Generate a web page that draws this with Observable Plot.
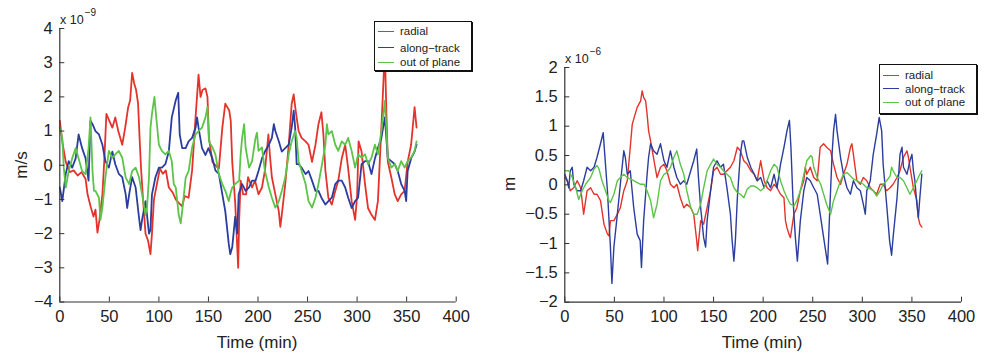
<!DOCTYPE html>
<html>
<head>
<meta charset="utf-8">
<script src="https://cdn.jsdelivr.net/npm/d3@7"></script>
<script src="https://cdn.jsdelivr.net/npm/@observablehq/plot@0.6"></script>
<style>
  body { margin: 0; background: #fff; }
  #wrap { position: relative; width: 989px; height: 358px; background: #fff; font-family: "Liberation Sans", Arial, Helvetica, sans-serif; color: #222; }
  .panel { position: absolute; top: 0; }
  .lbl { position: absolute; white-space: nowrap; }
  .legend { position: absolute; background: #fff; border: 1px solid #111; box-shadow: 1px 1px 0 #111; font-size: 11.5px; line-height: 12px; }
  .legend .row { position: absolute; left: 0; height: 12px; display: flex; align-items: center; white-space: nowrap; }
  .legend .sw { display: inline-block; width: 16px; height: 0; border-top: 1.3px solid; margin-left: 3px; margin-right: 6px; }
</style>
</head>
<body>
<div id="wrap">
  <div id="left" class="panel" style="left:0"></div>
  <div id="right" class="panel" style="left:500px"></div>
</div>
<script>
// ---- series names, colours, ticks ----
const seriesNames = ["radial", "along\u2212track", "out of plane"];
const seriesColors = ["#e3342b", "#2b3d9e", "#5cc448"];
const xTicks = [0, 50, 100, 150, 200, 250, 300, 350, 400];
const leftYTicks = [-4, -3, -2, -1, 0, 1, 2, 3, 4];
const rightYTicks = [-2, -1.5, -1, -0.5, 0, 0.5, 1, 1.5, 2];
const leftExponent = "\u22129";
const rightExponent = "\u22126";

// ---- left panel: velocity, units of 1e-9 m/s, [time (min), value] ----
const leftRadial = [[0,1.3],[3,0.6],[6,0.1],[10,-0.2],[14,-0.15],[18,-0.3],[22,-0.2],[26,-0.4],[28,-0.85],[31,-1.2],[34,-1.5],[36,-1.3],[38,-1.97],[40,-1.6],[43,-0.85],[45,0.2],[47,1.5],[50,1.3],[53,1.1],[56,1.4],[59,1.0],[63,0.6],[66,1.1],[69,1.7],[71,1.9],[73,2.7],[75,2.4],[77,2.2],[79,1.8],[80.5,0.8],[82,-0.1],[84,-1.0],[86.5,-2.0],[89,-2.2],[91.5,-2.6],[93,-2.0],[95,-1.0],[98,-0.55],[101,-0.1],[104,-0.25],[107,-0.15],[110,-0.65],[114,-0.8],[117,-1.0],[120,-1.1],[123.5,-1.2],[126,-0.9],[130,-0.95],[133.5,-0.15],[137,1.4],[140,2.65],[142,2.0],[144,2.2],[147,2.25],[149,2.0],[150.5,0.8],[154,0.1],[157,0.0],[160.5,-0.1],[164,1.1],[167,1.8],[169,1.7],[171,1.6],[172.5,1.3],[174,0.1],[177,-1.1],[180,-3.0],[181,-1.6],[182.5,-0.45],[185,-0.85],[188,-0.85],[190,-0.35],[194,-0.65],[197,-0.45],[200.5,-0.85],[204,-0.65],[207,-0.15],[210.5,0.9],[212,0.3],[214,-0.35],[217.5,-0.85],[221,-1.35],[222.5,-1.8],[224,-1.45],[227.5,-0.55],[231,0.6],[234,1.8],[236,2.07],[238,1.6],[241,1.0],[244,0.8],[248,0.7],[251,0.6],[254.5,0.1],[258,0.6],[261,1.2],[264,1.55],[266,0.9],[268,-0.15],[271,-0.95],[274.5,-1.15],[278,-0.75],[281,-0.45],[284.5,0.2],[288,0.6],[291,-0.1],[294.5,-1.05],[298,-1.6],[300,-0.9],[301.5,0.7],[304.5,0.4],[308,-0.55],[311,-1.25],[314.5,-1.45],[318,-1.6],[321,-1.05],[324.5,1.1],[326,2.07],[328,3.4],[329.5,1.6],[331,0.1],[334.5,-0.35],[338,-0.85],[341,-1.05],[344.5,-0.85],[348,-0.75],[351,0.1],[354.5,0.6],[358,1.7],[360,1.1]];

const leftAlong = [[0,-0.65],[2.5,-1.05],[6,-0.25],[9,0.12],[12.5,-0.07],[16,0.2],[19,0.9],[22.5,0.5],[26,0.2],[29,-0.45],[31,1.3],[33,1.2],[36,1.0],[39.5,0.9],[43,0.6],[46,0.12],[49.5,-0.07],[53,0.4],[56,0.03],[59.5,-0.25],[63,-0.35],[66.5,-0.85],[68,-1.25],[70,-0.85],[73,-0.35],[76.5,-0.65],[80,-1.55],[81.5,-1.9],[83,-1.6],[86.5,-1.05],[90,-2.0],[91.5,-1.9],[93,-0.85],[96.5,-0.35],[100,-0.07],[103,-0.07],[106.5,0.03],[110,0.4],[113,1.4],[117,1.9],[119.5,2.12],[121,0.9],[123.5,0.5],[127,0.5],[130,0.7],[133.5,0.8],[137,1.1],[138.5,1.4],[140,1.1],[143.5,0.5],[147,0.3],[150,0.5],[154,0.2],[157,-0.15],[160.5,-0.25],[164,-0.85],[167,-1.35],[170.5,-2.3],[172,-2.6],[174,-2.4],[177,-1.5],[179,-2.0],[180.5,-0.85],[184,-0.55],[187.5,-0.75],[191,-0.65],[194,-0.45],[197.5,-0.45],[200.5,-0.17],[204,0.2],[207,0.4],[211,0.6],[214,0.8],[216,1.2],[217.5,1.0],[221,0.7],[224,0.4],[227.5,0.5],[231,0.6],[234,1.1],[236,1.6],[237.5,1.1],[239,0.03],[241,0.03],[244,-0.07],[248,-0.26],[251,-0.17],[254.5,-0.45],[258,-0.75],[261,-0.75],[264,-0.95],[268,-1.15],[271,-1.05],[274.5,-0.95],[278,-0.55],[281,-0.45],[284.5,-0.45],[288,-0.65],[291,-0.95],[294.5,-1.25],[298,-1.05],[301,-0.95],[304.5,0.03],[308,0.12],[311,0.12],[314.5,-0.26],[318,0.2],[321,0.5],[324.5,0.8],[328,1.4],[329.5,0.8],[331,0.2],[334.5,0.12],[338,0.03],[341,-0.17],[344.5,-0.55],[348,-0.75],[349.5,-1.05],[351,-0.17],[354.5,0.2],[358,0.4],[360,0.6]];

const leftOut = [[0,1.1],[2.5,0.8],[4,-0.07],[6,-0.65],[9,-0.17],[12.5,0.2],[16,0.5],[19,0.2],[22.5,-0.17],[26,-0.26],[29,0.5],[31,1.4],[33,-0.17],[34.5,-0.75],[36,-0.75],[39.5,-0.95],[41,-1.6],[43,-1.24],[46,-0.36],[49.5,0.42],[53,0.22],[56,0.32],[59.5,0.42],[63,0.22],[66.5,-0.36],[70,-0.55],[73,-0.17],[76.5,-0.07],[80,-0.36],[83,-0.85],[86.5,-1.45],[88,-1.24],[90,-0.36],[91.5,1.1],[93,1.5],[95.5,2.0],[97,1.5],[100,0.6],[103,0.42],[106.5,0.32],[110,0.42],[113,0.12],[115,-0.55],[117,-0.65],[120,-1.45],[122,-1.7],[123.5,-1.34],[127,-0.36],[130,-0.17],[133.5,0.52],[137,0.9],[140,1.0],[143.5,1.1],[147,1.4],[149,1.7],[150.5,0.7],[154,0.52],[157,0.32],[160.5,-0.26],[164,-0.55],[167,-0.75],[170.5,-1.05],[172,-0.85],[174,-0.65],[177,-0.55],[181,-0.45],[182.5,0.32],[184,0.8],[186,1.2],[187.5,0.52],[191,-0.07],[194,0.12],[197.5,0.8],[199,0.95],[200.5,0.42],[204,0.52],[207,-0.17],[211,-0.65],[214,-0.95],[217.5,-1.24],[221,-1.05],[224,-0.75],[227.5,-0.36],[231,0.32],[234,0.7],[237.5,1.0],[239,0.8],[241,0.12],[244,-0.17],[248,-0.55],[251,-1.05],[254.5,-1.24],[258,-0.95],[261,-0.55],[264,-0.07],[268,0.6],[269.5,1.2],[271,0.9],[274.5,1.0],[278,0.6],[281,0.42],[284.5,0.7],[288,0.6],[291,0.8],[294.5,0.42],[298,-0.07],[301,0.32],[304.5,0.22],[308,0.32],[311,0.03],[314.5,0.22],[318,0.6],[321,0.32],[324.5,1.0],[328,1.88],[329.5,1.1],[331,0.22],[334.5,-0.07],[338,0.03],[341,-0.17],[344.5,0.12],[348,-0.07],[351,0.12],[354.5,0.22],[358,0.42],[360,0.7]];

// ---- right panel: position, units of 1e-6 m, [time (min), value] ----
const rightRadial = [[0,0.125],[2.5,0.07],[5.5,-0.1],[9,-0.05],[12.5,0.07],[16,-0.05],[19,-0.5],[22.5,-0.1],[26,-0.05],[29.5,-0.16],[32.5,-0.16],[36,-0.27],[39.5,-0.67],[43,-0.84],[44.5,-0.87],[46,-0.61],[49.5,-0.61],[53,-0.5],[56,-0.39],[59.5,-0.1],[63,0.07],[66,0.64],[68,1.03],[70,1.15],[73,1.32],[76.5,1.43],[78,1.6],[79.5,1.49],[81.5,1.43],[83,1.2],[84.5,0.92],[86.5,0.75],[90,0.41],[93,0.125],[96.5,0.3],[100,0.35],[103,0.24],[106.5,0.01],[110,-0.05],[113,0.01],[116.5,-0.22],[120,-0.39],[123,-0.33],[127,-0.39],[130,-0.5],[133,-0.95],[134,-1.12],[137,-0.61],[140,-0.67],[143.5,-0.39],[147,-0.1],[150,0.24],[153.5,0.3],[157,0.18],[160,0.18],[163.5,0.24],[167,0.3],[170.5,0.41],[174,0.64],[177,0.58],[180.5,0.41],[184,0.35],[187.5,0.24],[191,0.18],[194,0.07],[197.5,0.41],[201,0.07],[204,-0.05],[207.5,-0.1],[211,0.01],[214,-0.05],[217.5,-0.16],[221,-0.22],[222.5,-0.61],[224,-0.73],[226,-0.84],[227.5,-0.9],[231,-0.5],[234,-0.39],[237.5,-0.1],[241,0.07],[242.5,0.3],[244,0.18],[247.5,0.3],[251,0.125],[254.5,0.07],[256,0.35],[257.5,0.64],[261,0.7],[264,0.64],[268,0.58],[271,0.35],[274.5,0.125],[278,0.01],[281,0.18],[284.5,0.35],[288,0.64],[289.5,0.7],[291,0.52],[294.5,0.07],[298,0.01],[301,0.125],[304.5,0.07],[308,-0.05],[311,-0.1],[314.5,-0.16],[318,0.01],[321,0.01],[324.5,-0.1],[328,-0.05],[331,0.01],[335,0.125],[338,0.24],[341.5,0.47],[345,0.58],[346.5,0.47],[348,0.3],[351.5,-0.05],[355,-0.27],[356.5,-0.56],[358,-0.67],[360,-0.72]];

const rightAlong = [[0,0.18],[2.5,0.07],[4,-0.05],[5.5,0.24],[7.5,0.3],[9,0.01],[12.5,-0.1],[16,-0.1],[19,0.07],[22.5,0.3],[26,0.24],[29.5,0.3],[32.5,0.47],[36,0.7],[38.7,0.89],[41,0.35],[43,-0.1],[46,-1.06],[47.5,-1.68],[49.5,-1.06],[53,-0.5],[56,0.01],[59.5,0.58],[61,0.47],[63,0.18],[66,0.24],[69.5,-0.39],[73,-0.84],[76,-0.95],[77.3,-1.41],[79.5,-0.61],[83,0.18],[84.5,0.47],[86.5,0.7],[89.5,0.58],[93,0.52],[96.5,0.7],[100,0.41],[103,0.3],[106.5,0.58],[110,0.3],[113,0.125],[116.5,0.01],[120,0.07],[123,0.01],[127,0.24],[130,0.41],[133,0.61],[135,0.07],[137,-0.39],[140,-0.9],[142,-1.06],[143.5,-0.61],[147,-0.1],[150,0.3],[153.5,0.41],[157,0.3],[160,0.35],[163.5,-0.05],[167,-0.5],[168.5,-0.9],[170.5,-1.3],[172,-0.95],[174,-0.22],[177,0.52],[179,0.75],[180.5,0.75],[184,0.47],[187.5,0.3],[191,0.18],[194,0.07],[197.5,0.125],[201,-0.05],[204,0.07],[207.5,-0.05],[211,0.18],[214,-0.05],[217.5,0.35],[221,0.64],[224,0.92],[226.5,1.1],[228,0.64],[230,-0.22],[232.5,-0.9],[234.5,-1.3],[237.5,-0.61],[241,-0.1],[244,0.125],[247.5,0.07],[251,-0.05],[254.5,-0.16],[257.5,-0.5],[261,-0.9],[263.5,-1.18],[265,-1.35],[267,-0.5],[269.5,0.52],[271,0.92],[273,1.2],[274.5,0.92],[278,0.47],[281,0.18],[284.5,-0.05],[288,-0.16],[291,0.07],[294.5,-0.05],[298,-0.1],[301,-0.33],[303,-0.5],[304.5,-0.1],[308,0.07],[311,0.52],[314.5,0.87],[317,1.15],[319.5,0.92],[321,0.35],[324.5,-0.33],[327.5,-0.95],[329.5,-1.2],[331,-0.9],[335,-0.22],[338,0.52],[340,0.64],[341.5,0.3],[345,0.18],[348,0.41],[350,0.52],[351.5,0.24],[353,0.07],[355,-0.33],[356.5,-0.56],[358,-0.22],[360,0.18]];

const rightOut = [[0,0.24],[4,0.24],[7.5,0.125],[11,-0.05],[14,-0.25],[17.5,-0.1],[21,0.01],[26,0.125],[29.5,0.27],[32.5,0.33],[34.5,0.27],[37.5,0.07],[41,-0.1],[44.5,-0.27],[46,-0.3],[49.5,-0.16],[53,0.07],[56,0.125],[59.5,0.18],[63,0.125],[66,0.1],[69.5,0.07],[73,0.04],[76.5,0.01],[80,0.01],[83,-0.1],[86.5,-0.27],[89.5,-0.56],[93,-0.33],[96.5,0.07],[100,0.18],[103,0.21],[106.5,0.3],[110,0.47],[113,0.58],[116.5,0.35],[120,0.18],[123,-0.1],[127,-0.39],[130,-0.5],[133.5,-0.5],[137,-0.33],[140,-0.05],[143.5,0.24],[147,0.35],[150,0.44],[153.5,0.35],[157,0.3],[160,0.24],[163.5,0.18],[167,0.125],[170.5,-0.05],[174,-0.13],[177,-0.16],[180.5,-0.22],[184,-0.07],[187.5,-0.02],[191,-0.02],[194,-0.05],[197.5,-0.1],[201,-0.05],[204,0.07],[207.5,0.24],[211,0.35],[214,0.3],[217.5,0.07],[221,-0.1],[224,-0.22],[227.5,-0.33],[231,-0.36],[234,-0.27],[237.5,-0.1],[241,0.18],[244,0.41],[248,0.5],[249.5,0.47],[251,0.3],[254.5,0.125],[258,0.01],[261,-0.16],[264,-0.33],[268,-0.5],[271,-0.27],[274.5,-0.1],[278,0.07],[281,0.18],[284.5,0.21],[288,0.15],[291,0.1],[294.5,0.07],[298,0.04],[301,0.01],[304.5,-0.05],[308,-0.07],[311,-0.1],[314.5,-0.19],[318,-0.1],[321,0.01],[324.5,0.07],[328,0.15],[329.5,0.3],[331,0.24],[335,0.125],[338,0.125],[341.5,0.07],[345,-0.05],[348,-0.16],[351.5,-0.05],[355,0.07],[358,0.18],[360,0.24]];

const fmt = d => (d < 0 ? "\u2212" : "") + String(Math.abs(d));
const FONT = '"Liberation Sans", Arial, Helvetica, sans-serif';

function toRows(arr, name) { return arr.map(([t, v]) => ({t, v, s: name})); }

function panel(cfg) {
  const data = [
    ...toRows(cfg.series[0], seriesNames[0]),
    ...toRows(cfg.series[1], seriesNames[1]),
    ...toRows(cfg.series[2], seriesNames[2])
  ];
  return Plot.plot({
    width: cfg.width, height: 358,
    marginLeft: cfg.ml, marginRight: cfg.mr, marginTop: cfg.mt, marginBottom: cfg.mb,
    style: {fontFamily: FONT, fontSize: "16px", color: "#222", background: "transparent", overflow: "visible"},
    x: {domain: [0, 400], ticks: xTicks, label: null},
    y: {domain: cfg.ydomain, ticks: cfg.yticks, label: null},
    color: {domain: seriesNames, range: seriesColors},
    marks: [
      Plot.line(data, {x: "t", y: "v", z: "s", stroke: "s", strokeWidth: cfg.sw, strokeLinejoin: "round"}),
      Plot.ruleX([0], {stroke: "#333", strokeWidth: 1.2}),
      Plot.ruleY([cfg.ydomain[0]], {stroke: "#333", strokeWidth: 1.2}),
      Plot.axisX({ticks: xTicks, tickSize: -5, tickPadding: 13, stroke: "#333", fontSize: 16.5, tickFormat: fmt, label: null}),
      Plot.axisY({ticks: cfg.yticks, tickSize: -5, tickPadding: 12, stroke: "#333", fontSize: 16.5, tickFormat: fmt, label: null})
    ]
  });
}

document.getElementById("left").appendChild(panel({
  width: 480, ml: 59.3, mr: 24.3, mt: 28, mb: 56.5, ydomain: [-4, 4], yticks: leftYTicks,
  series: [leftRadial, leftAlong, leftOut], sw: 1.8
}));
document.getElementById("right").appendChild(panel({
  width: 489, ml: 64.3, mr: 28, mt: 67, mb: 56.3, ydomain: [-2, 2], yticks: rightYTicks,
  series: [rightRadial, rightAlong, rightOut], sw: 1.4
}));

// ---- text labels and legends ----
const wrap = document.getElementById("wrap");
function addLabel(html, style) {
  const d = document.createElement("div");
  d.className = "lbl"; d.innerHTML = html; Object.assign(d.style, style); wrap.appendChild(d);
  return d;
}
addLabel("x 10<span style='position:relative;top:-8px;font-size:10px;margin-left:1px'>" + leftExponent + "</span>", {left: "60px", top: "13px", fontSize: "12.5px"});
addLabel("x 10<span style='position:relative;top:-8px;font-size:10px;margin-left:1px'>" + rightExponent + "</span>", {left: "565px", top: "52px", fontSize: "12.5px"});
addLabel("m/s", {left: "22px", top: "165px", fontSize: "17px", transform: "translate(-50%,-50%) rotate(-90deg)"});
addLabel("m", {left: "510px", top: "184px", fontSize: "17px", transform: "translate(-50%,-50%) rotate(-90deg)"});
addLabel("Time (min)", {left: "257px", top: "343px", fontSize: "17px", transform: "translate(-50%,-50%)"});
addLabel("Time (min)", {left: "762px", top: "343px", fontSize: "17px", transform: "translate(-50%,-50%)"});

function legend(left, top, w, h, rowsY) {
  const box = document.createElement("div");
  box.className = "legend";
  Object.assign(box.style, {left: left + "px", top: top + "px", width: w + "px", height: h + "px"});
  seriesNames.forEach((n, i) => {
    const r = document.createElement("div");
    r.className = "row";
    r.style.top = (rowsY[i] - 6) + "px";
    r.innerHTML = `<span class="sw" style="border-color:${seriesColors[i]}"></span><span>${n}</span>`;
    box.appendChild(r);
  });
  wrap.appendChild(box);
}
legend(374, 21, 96, 48, [9, 25.5, 40]);
legend(879, 64, 96, 48, [10, 23.5, 37]);
</script>
</body>
</html>
